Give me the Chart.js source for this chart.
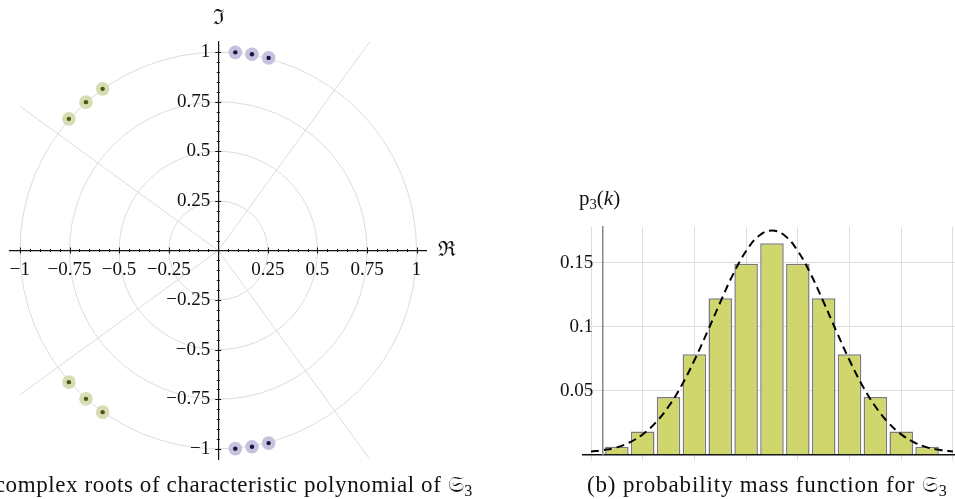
<!DOCTYPE html>
<html>
<head>
<meta charset="utf-8">
<script src="https://cdn.jsdelivr.net/npm/chart.js@4"></script>
<style>
  body { margin: 0; width: 955px; height: 499px; position: relative; overflow: hidden; background: #fff;
         font-family: "Liberation Serif", "DejaVu Serif", serif; color: #111; }
  canvas { position: absolute; }
  .txt { position: absolute; white-space: nowrap; line-height: 1; }
  .cap { font-size: 23px; }
  sub { font-size: 70%; vertical-align: -0.25em; line-height: 0; }
</style>
</head>
<body>
<canvas id="roots" width="460" height="499" style="left:0;top:0"></canvas>
<canvas id="pmf" width="415" height="319" style="left:540px;top:180px"></canvas>

<div class="txt" style="left:438px;top:239px;font-size:21px">ℜ</div>
<div class="txt" style="left:213px;top:7px;font-size:21px">ℑ</div>
<div class="txt" style="left:579px;top:188px;font-size:21px">p<sub>3</sub>(<i>k</i>)</div>

<div class="txt cap" style="right:482px;top:473px;letter-spacing:0.6px">(a) complex roots of characteristic polynomial of 𝔖<sub>3</sub></div>
<div class="txt cap" style="left:587px;top:473px;letter-spacing:0.85px">(b) probability mass function for 𝔖<sub>3</sub></div>

<script>
const greenRe = [-0.753, -0.667, -0.583, -0.753, -0.667, -0.583]
const greenIm = [0.663, 0.747, 0.814, -0.663, -0.747, -0.814]
const purpleRe = [0.086, 0.170, 0.254, 0.086, 0.170, 0.254]
const purpleIm = [0.998, 0.988, 0.970, -0.998, -0.988, -0.970]
const rootTicks = [-1, -0.75, -0.5, -0.25, 0.25, 0.5, 0.75, 1]
const gridRadii = [0.25, 0.5, 0.75, 1]
const gridAngles = [54, 144, 216, 306]

// pmf bars and the dashed curve
const kValues = [1, 2, 3, 4, 5, 6, 7, 8, 9, 10, 11, 12, 13]
const pmfValues = [0.0062, 0.0182, 0.0451, 0.0784, 0.1221, 0.149, 0.165, 0.149, 0.1221, 0.0784, 0.0451, 0.0182, 0.0062]
const curveK = [0, 0.5, 1, 1.5, 2, 2.5, 3, 3.5, 4, 4.5, 5, 5.5, 6, 6.5, 7, 7.5, 8, 8.5, 9, 9.5, 10, 10.5, 11, 11.5, 12, 12.5, 13, 13.5, 14]
const curveP = [0.0025, 0.0037, 0.0057, 0.0097, 0.0159, 0.025, 0.0376, 0.0539, 0.0737, 0.096, 0.119, 0.141, 0.159, 0.171, 0.175,
                0.171, 0.159, 0.141, 0.119, 0.096, 0.0737, 0.0539, 0.0376, 0.025, 0.0159, 0.0097, 0.0057, 0.0037, 0.0025]
const pmfTicks = [0.05, 0.1, 0.15]

Chart.defaults.font.family = '"Liberation Serif", "DejaVu Serif", serif'
Chart.defaults.font.size = 19
Chart.defaults.color = '#111'

function pts(xs, ys) {
  return xs.map((x, i) => ({x: x, y: ys[i]}))
}
function near(v, list) {
  return list.some(t => Math.abs(t - v) < 1e-6)
}
function fmt(v) {
  return String(v).replace('-', '\u2212')
}

// polar grid under everything
const polarGrid = {
  id: 'polarGrid',
  beforeDraw(chart) {
    const ctx = chart.ctx, sx = chart.scales.x, sy = chart.scales.y
    const cx = sx.getPixelForValue(0), cy = sy.getPixelForValue(0)
    ctx.save()
    ctx.strokeStyle = '#dcdcdc'
    ctx.lineWidth = 1
    gridRadii.forEach(r => {
      ctx.beginPath()
      ctx.arc(cx, cy, sx.getPixelForValue(r) - cx, 0, Math.PI * 2)
      ctx.stroke()
    })
    ctx.beginPath()
    ctx.rect(sx.getPixelForValue(-1), sy.getPixelForValue(1.05), sx.getPixelForValue(1) - sx.getPixelForValue(-1), sy.getPixelForValue(-1.05) - sy.getPixelForValue(1.05))
    ctx.clip()
    gridAngles.forEach(a => {
      const t = a * Math.PI / 180
      ctx.beginPath()
      ctx.moveTo(cx, cy)
      ctx.lineTo(sx.getPixelForValue(2 * Math.cos(t)), sy.getPixelForValue(2 * Math.sin(t)))
      ctx.stroke()
    })
    ctx.restore()
  }
}

// small ticks crossing the centred axes
const crossTicks = {
  id: 'crossTicks',
  afterDraw(chart) {
    const ctx = chart.ctx, sx = chart.scales.x, sy = chart.scales.y
    const cx = sx.getPixelForValue(0), cy = sy.getPixelForValue(0)
    ctx.save()
    ctx.strokeStyle = '#111'
    ctx.lineWidth = 1
    sx.ticks.forEach(t => {
      if (Math.abs(t.value) > 1.01 || Math.abs(t.value) < 1e-6) return
      const p = Math.round(sx.getPixelForValue(t.value)) + 0.5
      const h = near(t.value, rootTicks) ? 3 : 1.5
      ctx.beginPath(); ctx.moveTo(p, cy - h); ctx.lineTo(p, cy + h); ctx.stroke()
    })
    sy.ticks.forEach(t => {
      if (Math.abs(t.value) > 1.01 || Math.abs(t.value) < 1e-6) return
      const p = Math.round(sy.getPixelForValue(t.value)) + 0.5
      const h = near(t.value, rootTicks) ? 3 : 1.5
      ctx.beginPath(); ctx.moveTo(cx - h, p); ctx.lineTo(cx + h, p); ctx.stroke()
    })
    ctx.restore()
  }
}

new Chart(document.getElementById('roots').getContext('2d'), {
  type: 'scatter',
  data: {
    datasets: [
      {data: pts(greenRe, greenIm), pointRadius: 2.2, backgroundColor: '#4b5a12', borderWidth: 0},
      {data: pts(purpleRe, purpleIm), pointRadius: 2.2, backgroundColor: '#1c1242', borderWidth: 0},
      {data: pts(greenRe, greenIm), pointRadius: 6.8, backgroundColor: '#d9dbb4', borderWidth: 0},
      {data: pts(purpleRe, purpleIm), pointRadius: 6.8, backgroundColor: '#c7c0de', borderWidth: 0}
    ]
  },
  options: {
    responsive: false,
    animation: false,
    layout: {padding: {left: 10, right: 33.5, top: 42, bottom: 40}},
    plugins: {legend: {display: false}, tooltip: {enabled: false}},
    scales: {
      x: {
        type: 'linear', min: -1.05, max: 1.05,
        position: {y: 0},
        grid: {display: false, drawTicks: false},
        border: {display: true, color: '#111', width: 1.2},
        ticks: {
          stepSize: 0.05, autoSkip: false, maxRotation: 0, padding: 8,
          callback: v => near(v, rootTicks) ? fmt(v) : ''
        }
      },
      y: {
        type: 'linear', min: -1.05, max: 1.05,
        position: {x: 0},
        grid: {display: false, drawTicks: false},
        border: {display: true, color: '#111', width: 1.2},
        ticks: {
          stepSize: 0.05, autoSkip: false,
          // centred y axes ignore ticks.padding, so a trailing space keeps the gap
          callback: v => near(v, rootTicks) ? fmt(v) + ' \u2006' : ''
        }
      }
    }
  },
  plugins: [polarGrid, crossTicks]
})

new Chart(document.getElementById('pmf').getContext('2d'), {
  type: 'bar',
  data: {
    datasets: [
      {
        type: 'line',
        data: pts(curveK, curveP),
        borderColor: '#000', borderWidth: 2, borderDash: [8, 5],
        pointRadius: 0, tension: 0.4, fill: false, order: 0
      },
      {
        type: 'bar',
        data: pts(kValues, pmfValues),
        backgroundColor: '#cfd66b', borderColor: '#7a7a7a', borderWidth: 1.5,
        barPercentage: 0.91, categoryPercentage: 1, order: 1
      }
    ]
  },
  options: {
    responsive: false,
    animation: false,
    layout: {padding: {left: 43, right: 0, top: 46.7, bottom: 44.3}},
    plugins: {legend: {display: false}, tooltip: {enabled: false}},
    scales: {
      x: {
        type: 'linear', min: -0.31, max: 14.08, offset: false,
        position: {y: 0},
        grid: {color: '#dedede', tickColor: '#dedede', tickLength: 5, lineWidth: 1, offset: false},
        border: {display: true, color: '#111', width: 1.5},
        ticks: {display: false, stepSize: 2, includeBounds: false}
      },
      y: {
        type: 'linear', min: 0, max: 0.178,
        position: {x: 0.45},
        grid: {color: '#dedede', drawTicks: false, lineWidth: 1},
        border: {display: true, color: '#888', width: 1.5},
        ticks: {
          stepSize: 0.05, includeBounds: false,
          callback: v => near(v, pmfTicks) ? String(v) + '\u2002' : ''
        }
      }
    }
  }
})
</script>
</body>
</html>
